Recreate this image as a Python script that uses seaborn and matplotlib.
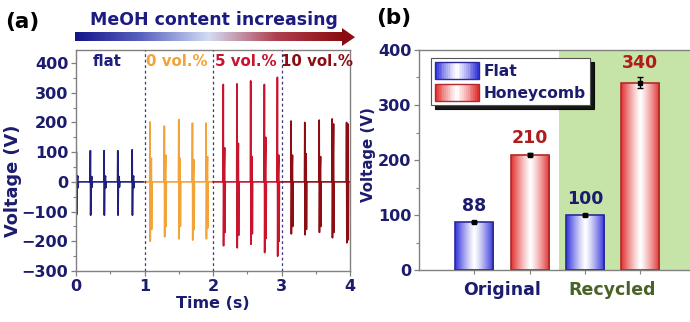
import numpy as np
import pandas as pd
import matplotlib
matplotlib.use("Agg")
import matplotlib.pyplot as plt
import seaborn as sns
from matplotlib.patches import Rectangle, Polygon
from matplotlib.legend_handler import HandlerBase
from matplotlib.colors import to_rgb, LinearSegmentedColormap
from matplotlib.ticker import MultipleLocator, FixedLocator

# ---------------- data ----------------
# panel (a): spike trains per segment
seg_names = ["flat", "0 vol.%", "5 vol.%", "10 vol.%"]
seg_bounds = [(0.0, 1.0), (1.0, 2.0), (2.0, 3.0), (3.0, 4.0)]
flat_t = [0.005, 0.21, 0.41, 0.61, 0.82]
flat_pos = [102, 105, 105, 105, 108]
flat_neg = [-110, -112, -112, -112, -112]
flat_pos2 = [20, 18, 20, 18, 20]
flat_neg2 = [-20, -18, -20, -18, -20]
v0_t = [1.08, 1.29, 1.50, 1.70, 1.90]
v0_pos = [202, 188, 210, 198, 198]
v0_neg = [-200, -185, -192, -196, -192]
v0_pos2 = [80, 90, 80, 75, 85]
v0_neg2 = [-160, -150, -150, -160, -155]
v5_t = [2.15, 2.35, 2.55, 2.75, 2.94]
v5_pos = [328, 330, 340, 328, 352]
v5_neg = [-215, -222, -210, -238, -250]
v5_pos2 = [115, 130, 85, 150, 90]
v5_neg2 = [-170, -180, -175, -190, -200]
v10_t = [3.14, 3.34, 3.55, 3.74, 3.95]
v10_pos = [205, 200, 208, 212, 200]
v10_neg = [-175, -178, -170, -188, -205]
v10_pos2 = [90, 95, 85, 195, 195]
v10_neg2 = [-150, -160, -150, -170, -195]

# panel (b): bar chart
conditions = ["Original", "Original", "Recycled", "Recycled"]
types = ["Flat", "Honeycomb", "Flat", "Honeycomb"]
voltages = [88, 210, 100, 340]
errors = [2, 3, 2, 10]
value_labels = ["88", "210", "100", "340"]

# ---------------- style ----------------
NAVY = "#1c1c6e"
seg_colors = ["#1f1f80", "#f2a43a", "#c8142c", "#8c0e12"]

sns.set_theme(style="white")
plt.rcParams["font.family"] = ["DejaVu Sans"]
plt.rcParams["font.weight"] = "bold"
plt.rcParams["axes.labelweight"] = "bold"

fig = plt.figure(figsize=(6.9, 3.22), dpi=100)
W, H = 690.0, 322.0

# ================= panel (a) =================
axa = fig.add_axes([76 / W, 1 - 271 / H, 274 / W, 221 / H])

seg_data = [
    (flat_t, flat_pos, flat_neg, flat_pos2, flat_neg2),
    (v0_t, v0_pos, v0_neg, v0_pos2, v0_neg2),
    (v5_t, v5_pos, v5_neg, v5_pos2, v5_neg2),
    (v10_t, v10_pos, v10_neg, v10_pos2, v10_neg2),
]
for (t0, t1), (ts, ps, ns, p2s, n2s), col in zip(seg_bounds, seg_data, seg_colors):
    xs, ys = [t0], [0.0]
    for t, p, n, p2, n2 in zip(ts, ps, ns, p2s, n2s):
        xs += [t - 0.004, t, t + 0.004, t + 0.009, t + 0.02, t + 0.024, t + 0.029]
        ys += [0, p, n, 0, p2, n2, 0]
    xs.append(t1)
    ys.append(0.0)
    sns.lineplot(x=xs, y=ys, sort=False, estimator=None, color=col, lw=1.2, ax=axa)

for xb in [1, 2, 3]:
    axa.axvline(xb, color="#3a3a80", ls=(0, (2.2, 2.2)), lw=0.9, zorder=3)

label_x = [0.46, 1.475, 2.48, 3.52]
for name, lx, col in zip(seg_names, label_x, seg_colors):
    axa.text(lx, 405, name, color=col, ha="center", va="center",
             fontsize=10.8, fontweight="bold", zorder=4)

axa.set_xlim(0, 4)
axa.set_ylim(-300, 444)
axa.xaxis.set_major_locator(MultipleLocator(1))
axa.xaxis.set_minor_locator(MultipleLocator(0.5))
axa.yaxis.set_major_locator(FixedLocator([-300, -200, -100, 0, 100, 200, 300, 400]))
axa.yaxis.set_minor_locator(MultipleLocator(50))
axa.set_xlabel("Time (s)", color=NAVY, fontsize=11.5, labelpad=2)
axa.set_ylabel("Voltage (V)", color=NAVY, fontsize=12.8)
axa.yaxis.set_label_coords(-0.197, 0.41)
for sp in axa.spines.values():
    sp.set_color("#808080")
    sp.set_linewidth(1.0)
axa.tick_params(which="major", direction="out", length=3.5, width=0.9, color="#808080",
                labelsize=11.5, labelcolor=NAVY, pad=2, bottom=True, left=True)
axa.tick_params(which="minor", direction="out", length=2, width=0.8, color="#808080",
                bottom=True, left=True)
for lab in axa.get_xticklabels() + axa.get_yticklabels():
    lab.set_fontweight("bold")

# gradient arrow on top of panel (a)
axr = fig.add_axes([72 / W, 1 - 48 / H, 286 / W, 22 / H])
axr.axis("off")
cmap_arrow = LinearSegmentedColormap.from_list(
    "arr", ["#14148a", "#5a64c0", "#d4dcf2", "#b04050", "#8a0c10"])
grad = np.linspace(0, 1, 256)[None, :]
axr.imshow(grad, cmap=cmap_arrow, extent=[75, 343, 41.5, 33], aspect="auto")
axr.add_patch(Polygon([[342, 28], [355, 37.2], [342, 46]], closed=True,
                      facecolor="#8a0c10", edgecolor="none"))
axr.set_xlim(72, 358)
axr.set_ylim(48, 26)

fig.text(214 / W, 1 - 20 / H, "MeOH content increasing", color="#1c1c80",
         ha="center", va="center", fontsize=12.5, fontweight="bold")
fig.text(5 / W, 1 - 22 / H, "(a)", color="black", ha="left", va="center",
         fontsize=15.5, fontweight="bold")
fig.text(376 / W, 1 - 18 / H, "(b)", color="black", ha="left", va="center",
         fontsize=15.5, fontweight="bold")

# ================= panel (b) =================
axb = fig.add_axes([419 / W, 1 - 270 / H, 271 / W, 220 / H])
df = pd.DataFrame({"cond": conditions, "type": types, "V": voltages})
base_cols = {"Flat": "#3434dc", "Honeycomb": "#e23232"}
edge_cols = {"Flat": "#2a2a9a", "Honeycomb": "#b02a2a"}
sns.barplot(data=df, x="cond", y="V", hue="type", palette=base_cols, width=1.0,
            gap=0.31, errorbar=None, legend=False, ax=axb, zorder=2)
bars = [p for p in axb.patches if isinstance(p, Rectangle) and p.get_height() > 0]
bars = sorted(bars, key=lambda p: p.get_x())
axb.axvspan(0.52, 2.0, color="#c6e3a8", zorder=0, lw=0)

def grad_colors(base, n=64):
    b = np.array(to_rgb(base))
    u = np.linspace(0, 1, n)
    m = np.abs(2 * u - 1) ** 1.2
    return (1 - m)[:, None] * 1.0 + m[:, None] * b[None, :]

for p, ty, v, e, lab in zip(bars, types, voltages, errors, value_labels):
    x0, w, h = p.get_x(), p.get_width(), p.get_height()
    img = grad_colors(base_cols[ty])[None, :, :]
    im = axb.imshow(img, extent=[x0, x0 + w, 0, h], aspect="auto", zorder=2.5,
                    interpolation="bilinear")
    im.set_clip_path(p)
    p.set_facecolor("none")
    p.set_edgecolor(edge_cols[ty])
    p.set_linewidth(1.2)
    p.set_zorder(3)
    xc = x0 + w / 2
    axb.errorbar(xc, v, yerr=e, fmt="s", color="black", ms=3, capsize=2.5,
                 elinewidth=1, capthick=1, zorder=4)
    axb.annotate(lab, (xc, v + e), xytext=(0, 4), textcoords="offset points",
                 ha="center", va="bottom", fontsize=12.5, fontweight="bold",
                 color=NAVY if ty == "Flat" else "#b01c1c", zorder=5)

axb.set_xlim(-0.75, 1.70)
axb.set_ylim(0, 400)
axb.set_xlabel("")
axb.set_ylabel("Voltage (V)", color=NAVY, fontsize=10.8)
axb.yaxis.set_label_coords(-0.158, 0.523)
axb.set_xticks([0, 1])
axb.set_xticklabels(["Original", "Recycled"], fontsize=12.5, fontweight="bold")
axb.get_xticklabels()[0].set_color("#1c1c6e")
axb.get_xticklabels()[1].set_color("#4a6228")
axb.xaxis.set_minor_locator(FixedLocator([p.get_x() + p.get_width() / 2 for p in bars]))
axb.yaxis.set_major_locator(MultipleLocator(100))
axb.yaxis.set_minor_locator(MultipleLocator(50))
axb.tick_params(axis="x", which="major", length=0, pad=8)
axb.tick_params(axis="x", which="minor", direction="out", length=3, width=0.8,
                color="#808080", bottom=True)
axb.tick_params(axis="y", which="major", direction="out", length=3.5, width=0.9,
                color="#808080", labelsize=11.5, labelcolor=NAVY, pad=2, left=True)
axb.tick_params(axis="y", which="minor", direction="out", length=2, width=0.8,
                color="#808080", left=True)
for lab in axb.get_yticklabels():
    lab.set_fontweight("bold")
for side, sp in axb.spines.items():
    sp.set_color("#808080")
    sp.set_linewidth(1.0)
axb.spines["right"].set_visible(False)

# legend with gradient handles
class GradHandler(HandlerBase):
    def __init__(self, base, edge):
        super().__init__()
        self.base, self.edge = base, edge

    def create_artists(self, legend, orig_handle, xdescent, ydescent, width,
                       height, fontsize, trans):
        cols = grad_colors(self.base, 24)
        n = len(cols)
        arts = []
        for i, c in enumerate(cols):
            arts.append(Rectangle((-xdescent + i * width / n, -ydescent), width / n + 0.3,
                                  height, facecolor=c, edgecolor="none", transform=trans))
        arts.append(Rectangle((-xdescent, -ydescent), width, height, facecolor="none",
                              edgecolor=self.edge, lw=1.0, transform=trans))
        return arts

h_flat = Rectangle((0, 0), 1, 1)
h_honey = Rectangle((0, 0), 1, 1)
leg = axb.legend([h_flat, h_honey], ["Flat", "Honeycomb"],
                 handler_map={h_flat: GradHandler(base_cols["Flat"], edge_cols["Flat"]),
                              h_honey: GradHandler(base_cols["Honeycomb"], edge_cols["Honeycomb"])},
                 loc="upper left", bbox_to_anchor=(0.045, 0.965), borderaxespad=0,
                 fontsize=11.2, frameon=True, fancybox=False,
                 shadow={"color": "black", "alpha": 0.9, "ox": 3, "oy": -3},
                 handlelength=2.8, handleheight=1.35, labelspacing=0.3,
                 handletextpad=0.35, borderpad=0.25, facecolor="white", edgecolor="#555555")
leg.get_frame().set_linewidth(0.8)
for t in leg.get_texts():
    t.set_color(NAVY)
    t.set_fontweight("bold")
leg.set_zorder(6)

fig.savefig("out.png", dpi=100)
